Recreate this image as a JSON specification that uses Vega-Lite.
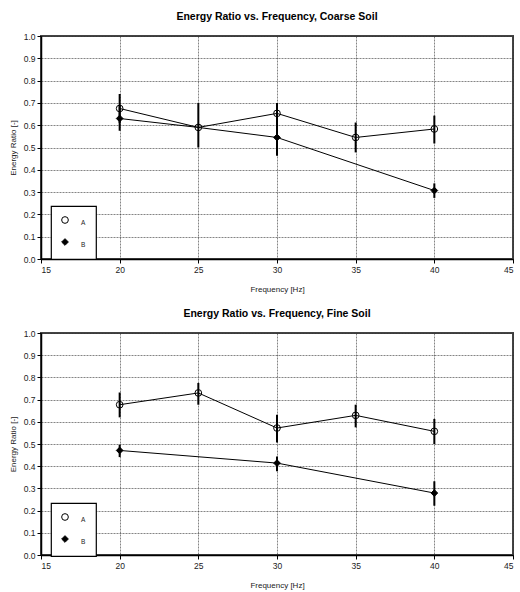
{
  "$schema": "https://vega.github.io/schema/vega-lite/v6.json",
  "padding": {"left": 8, "top": 10, "right": 2, "bottom": 0},
  "background": "white",
  "datasets": {
    "coarse": [
      {"freq": 20, "series": "A", "ratio": 0.675, "lo": 0.61, "hi": 0.74, "marker": true},
      {"freq": 25, "series": "A", "ratio": 0.59, "lo": 0.50, "hi": 0.70, "marker": true},
      {"freq": 30, "series": "A", "ratio": 0.653, "lo": 0.60, "hi": 0.70, "marker": true},
      {"freq": 35, "series": "A", "ratio": 0.545, "lo": 0.478, "hi": 0.612, "marker": true},
      {"freq": 40, "series": "A", "ratio": 0.583, "lo": 0.518, "hi": 0.643, "marker": true},
      {"freq": 20, "series": "B", "ratio": 0.63, "lo": 0.575, "hi": 0.69, "marker": true},
      {"freq": 25, "series": "B", "ratio": 0.59, "lo": null, "hi": null, "marker": false},
      {"freq": 30, "series": "B", "ratio": 0.545, "lo": 0.463, "hi": 0.62, "marker": true},
      {"freq": 40, "series": "B", "ratio": 0.307, "lo": 0.274, "hi": 0.339, "marker": true}
    ],
    "fine": [
      {"freq": 20, "series": "A", "ratio": 0.677, "lo": 0.62, "hi": 0.732, "marker": true},
      {"freq": 25, "series": "A", "ratio": 0.73, "lo": 0.677, "hi": 0.775, "marker": true},
      {"freq": 30, "series": "A", "ratio": 0.572, "lo": 0.507, "hi": 0.632, "marker": true},
      {"freq": 35, "series": "A", "ratio": 0.629, "lo": 0.575, "hi": 0.677, "marker": true},
      {"freq": 40, "series": "A", "ratio": 0.557, "lo": 0.50, "hi": 0.613, "marker": true},
      {"freq": 20, "series": "B", "ratio": 0.471, "lo": 0.441, "hi": 0.497, "marker": true},
      {"freq": 30, "series": "B", "ratio": 0.414, "lo": 0.377, "hi": 0.444, "marker": true},
      {"freq": 40, "series": "B", "ratio": 0.279, "lo": 0.222, "hi": 0.332, "marker": true}
    ]
  },
  "vconcat": [
    {
      "title": "Energy Ratio vs. Frequency, Coarse Soil",
      "width": 472,
      "height": 223,
      "data": {"name": "coarse"},
      "encoding": {
        "x": {"field": "freq", "type": "quantitative", "scale": {"domain": [15, 45]}, "axis": {"values": [15, 20, 25, 30, 35, 40, 45], "title": "Frequency [Hz]"}},
        "y": {"field": "ratio", "type": "quantitative", "scale": {"domain": [0, 1]}, "axis": {"values": [0, 0.1, 0.2, 0.3, 0.4, 0.5, 0.6, 0.7, 0.8, 0.9, 1.0], "format": ".1f", "title": "Energy Ratio [-]"}}
      },
      "layer": [
        {"mark": {"type": "line", "color": "black", "strokeWidth": 1}, "encoding": {"detail": {"field": "series"}}},
        {"mark": {"type": "rule", "color": "black", "strokeWidth": 2}, "encoding": {"y": {"field": "lo", "type": "quantitative"}, "y2": {"field": "hi"}}},
        {
          "transform": [{"filter": "datum.marker"}],
          "mark": {"type": "point", "strokeWidth": 1, "opacity": 1},
          "encoding": {
            "shape": {"field": "series", "type": "nominal", "scale": {"domain": ["A", "B"], "range": ["circle", "diamond"]}, "legend": {"orient": "none", "legendX": 10, "legendY": 170, "title": null}},
            "fill": {"field": "series", "type": "nominal", "scale": {"domain": ["A", "B"], "range": ["transparent", "black"]}, "legend": {"orient": "none", "legendX": 10, "legendY": 170, "title": null}},
            "stroke": {"field": "series", "type": "nominal", "scale": {"domain": ["A", "B"], "range": ["black", "black"]}, "legend": {"orient": "none", "legendX": 10, "legendY": 170, "title": null}},
            "size": {"value": 45}
          }
        }
      ]
    },
    {
      "title": "Energy Ratio vs. Frequency, Fine Soil",
      "width": 472,
      "height": 222,
      "data": {"name": "fine"},
      "encoding": {
        "x": {"field": "freq", "type": "quantitative", "scale": {"domain": [15, 45]}, "axis": {"values": [15, 20, 25, 30, 35, 40, 45], "title": "Frequency [Hz]"}},
        "y": {"field": "ratio", "type": "quantitative", "scale": {"domain": [0, 1]}, "axis": {"values": [0, 0.1, 0.2, 0.3, 0.4, 0.5, 0.6, 0.7, 0.8, 0.9, 1.0], "format": ".1f", "title": "Energy Ratio [-]"}}
      },
      "layer": [
        {"mark": {"type": "line", "color": "black", "strokeWidth": 1}, "encoding": {"detail": {"field": "series"}}},
        {"mark": {"type": "rule", "color": "black", "strokeWidth": 2}, "encoding": {"y": {"field": "lo", "type": "quantitative"}, "y2": {"field": "hi"}}},
        {
          "transform": [{"filter": "datum.marker"}],
          "mark": {"type": "point", "strokeWidth": 1, "opacity": 1},
          "encoding": {
            "shape": {"field": "series", "type": "nominal", "scale": {"domain": ["A", "B"], "range": ["circle", "diamond"]}, "legend": {"orient": "none", "legendX": 10, "legendY": 170, "title": null}},
            "fill": {"field": "series", "type": "nominal", "scale": {"domain": ["A", "B"], "range": ["transparent", "black"]}, "legend": {"orient": "none", "legendX": 10, "legendY": 170, "title": null}},
            "stroke": {"field": "series", "type": "nominal", "scale": {"domain": ["A", "B"], "range": ["black", "black"]}, "legend": {"orient": "none", "legendX": 10, "legendY": 170, "title": null}},
            "size": {"value": 45}
          }
        }
      ]
    }
  ],
  "resolve": {"scale": {"shape": "independent", "fill": "independent", "stroke": "independent"}, "legend": {"shape": "independent", "fill": "independent", "stroke": "independent"}},
  "config": {
    "font": "Liberation Sans",
    "concat": {"spacing": 12},
    "view": {"stroke": "#444", "strokeWidth": 2},
    "title": {"fontSize": 10.5, "fontWeight": "bold", "color": "black", "offset": 10, "anchor": "middle"},
    "axis": {
      "grid": true,
      "gridColor": "#333",
      "gridDash": [2, 1],
      "gridWidth": 0.6,
      "gridOpacity": 1,
      "domainColor": "black",
      "domainWidth": 1.5,
      "tickColor": "black",
      "tickSize": 4,
      "labelFontSize": 8.5,
      "labelColor": "#222",
      "titleFontSize": 8,
      "titleFontWeight": "normal",
      "titleColor": "#222"
    },
    "axisX": {"titlePadding": 12, "labelPadding": 2},
    "axisY": {"titlePadding": 6, "labelPadding": 2},
    "legend": {
      "strokeColor": "black",
      "strokeWidth": 1.2,
      "fillColor": "white",
      "padding": 10,
      "symbolSize": 45,
      "symbolStrokeWidth": 1,
      "labelFontSize": 6.5,
      "labelOffset": 12,
      "labelBaseline": "top",
      "rowPadding": 9,
      "labelColor": "#222"
    }
  }
}
